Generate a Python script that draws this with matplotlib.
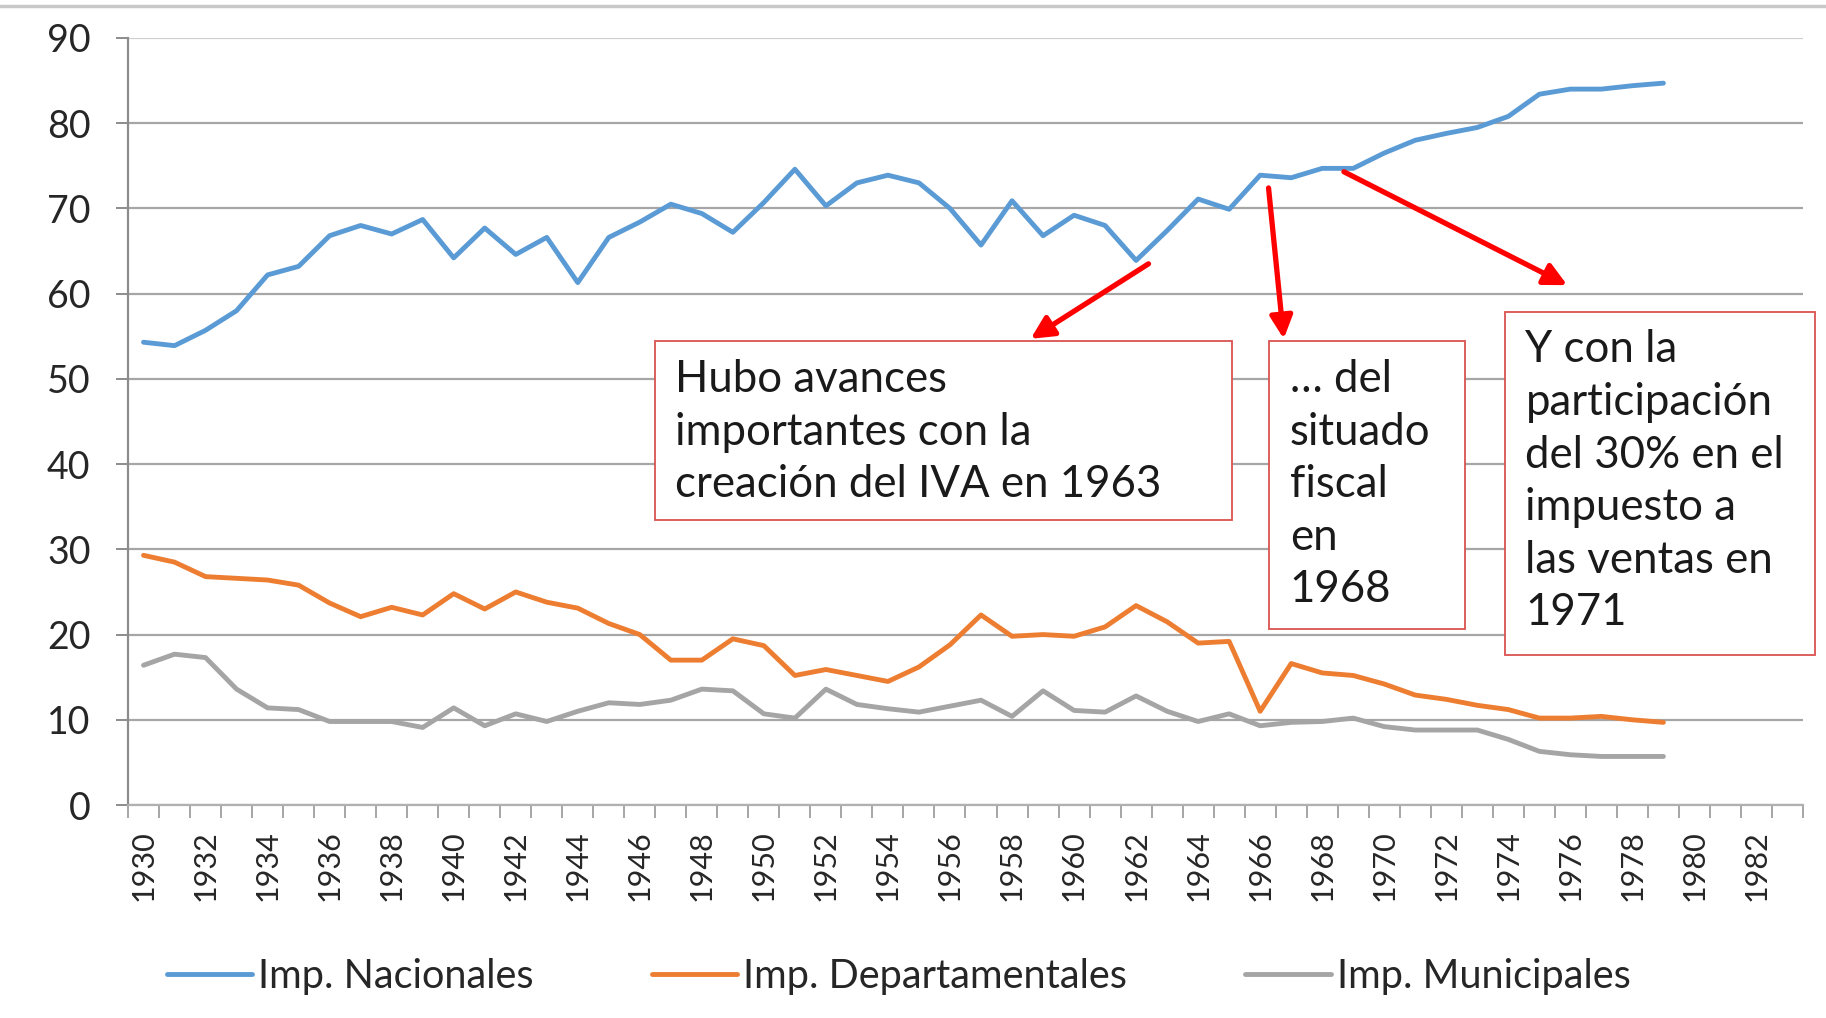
import matplotlib
matplotlib.use('Agg')
import matplotlib.pyplot as plt
from matplotlib.patches import Rectangle
from matplotlib.lines import Line2D
import numpy as np

plt.rcParams['font.family'] = ['Lato', 'DejaVu Sans']

# data
years = list(range(1930, 1980))
nacionales = [54.3, 53.9, 55.7, 58.0, 62.2, 63.2, 66.8, 68.0, 67.0, 68.7,
              64.2, 67.7, 64.6, 66.6, 61.3, 66.6, 68.4, 70.5, 69.4, 67.2,
              70.7, 74.6, 70.3, 73.0, 73.9, 73.0, 70.0, 65.7, 70.9, 66.8,
              69.2, 68.0, 63.9, 67.4, 71.1, 69.9, 73.9, 73.6, 74.7, 74.7,
              76.5, 78.0, 78.8, 79.5, 80.8, 83.4, 84.0, 84.0, 84.4, 84.7]
departamentales = [29.3, 28.5, 26.8, 26.6, 26.4, 25.8, 23.7, 22.1, 23.2, 22.3,
                   24.8, 23.0, 25.0, 23.8, 23.1, 21.3, 20.0, 17.0, 17.0, 19.5,
                   18.7, 15.2, 15.9, 15.2, 14.5, 16.2, 18.8, 22.3, 19.8, 20.0,
                   19.8, 20.9, 23.4, 21.5, 19.0, 19.2, 11.0, 16.6, 15.5, 15.2,
                   14.2, 12.9, 12.4, 11.7, 11.2, 10.2, 10.2, 10.4, 10.0, 9.7]
municipales = [16.4, 17.7, 17.3, 13.6, 11.4, 11.2, 9.8, 9.8, 9.8, 9.1,
               11.4, 9.3, 10.7, 9.8, 11.0, 12.0, 11.8, 12.3, 13.6, 13.4,
               10.7, 10.2, 13.6, 11.8, 11.3, 10.9, 11.6, 12.3, 10.4, 13.4,
               11.1, 10.9, 12.8, 11.0, 9.8, 10.7, 9.3, 9.7, 9.8, 10.2,
               9.2, 8.8, 8.8, 8.8, 7.7, 6.3, 5.9, 5.7, 5.7, 5.7]
first_year, last_year = 1930, 1983
labels = ['Imp. Nacionales', 'Imp. Departamentales', 'Imp. Municipales']
colors = ['#5b9bd5', '#ed7d31', '#a5a5a5']

notes = ['Hubo avances\nimportantes con la\ncreación del IVA en 1963',
         '… del\nsituado\nfiscal\nen\n1968',
         'Y con la\nparticipación\ndel 30% en el\nimpuesto a\nlas ventas en\n1971']

fig = plt.figure(figsize=(18.26, 10.18), dpi=100)
ax = fig.add_axes([0.0701, 0.2092, 0.9173, 0.7535])

for vals, col, lab in zip([nacionales, departamentales, municipales], colors, labels):
    ax.plot(years, vals, color=col, lw=3.5, label=lab, zorder=3,
            solid_joinstyle='round', solid_capstyle='round')

ax.set_xlim(first_year - 0.5, last_year + 0.5)
ax.set_ylim(0, 90)
ax.set_yticks(np.arange(0, 91, 10))
ax.yaxis.grid(True, color='#a6a6a6', lw=1.6)
ax.get_ygridlines()[-1].set_color('#cfcfcf')
ax.set_axisbelow(True)

ax.set_xticks(np.arange(first_year, last_year + 1, 2))
ax.set_xticks(np.arange(first_year - 0.5, last_year + 1, 1), minor=True)
ax.tick_params(axis='x', which='major', length=0, pad=18, labelrotation=90,
               labelsize=22, labelcolor='#262626')
ax.tick_params(axis='x', which='minor', length=9, width=1.4, color='#a6a6a6',
               direction='out')
ax.tick_params(axis='y', length=9, width=1.4, color='#8c8c8c', pad=18,
               labelsize=27, labelcolor='#262626')

for s in ['top', 'right']:
    ax.spines[s].set_visible(False)
ax.spines['left'].set_color('#8c8c8c')
ax.spines['left'].set_linewidth(1.6)
ax.spines['bottom'].set_color('#b0b0b0')
ax.spines['bottom'].set_linewidth(1.6)

# note boxes: (x0, x1, y_bottom, y_top) in data units
boxes = [(1946.5, 1965.1, 33.5, 54.4),
         (1966.3, 1972.6, 20.7, 54.4),
         (1973.9, 1983.9, 17.6, 57.9)]
for (x0, x1, y0, y1), txt in zip(boxes, notes):
    ax.add_patch(Rectangle((x0, y0), x1 - x0, y1 - y0, facecolor='white',
                           edgecolor='#d9534f', lw=1.3, zorder=4, clip_on=False))
    ax.text(x0 + 0.65, y1 - 2.1, txt, fontsize=31.5, color='#1a1a1a', va='top',
            ha='left', linespacing=1.35, zorder=5, clip_on=False)

# arrows: (start, end)
arrows = [((1962.4, 63.5), (1958.6, 54.7)),
          ((1966.27, 72.4), (1966.76, 54.7)),
          ((1968.7, 74.3), (1975.9, 61.0))]
for start, end in arrows:
    ax.annotate('', xy=end, xytext=start, zorder=6,
                arrowprops=dict(arrowstyle='-|>', color='#ff0000', lw=3.8,
                                mutation_scale=34, shrinkA=0, shrinkB=0))

# top border line
fig.add_artist(Line2D([0, 1], [0.994, 0.994], color='#c8c8c8', lw=2.5,
                      transform=fig.transFigure))

fig.legend(loc='center', bbox_to_anchor=(0.492, 0.041), ncol=3, frameon=False,
           fontsize=28.5, handlelength=2.15, handletextpad=0.15, columnspacing=3.0,
           labelcolor='#262626')

fig.savefig('out.png', dpi=100, facecolor='white')
